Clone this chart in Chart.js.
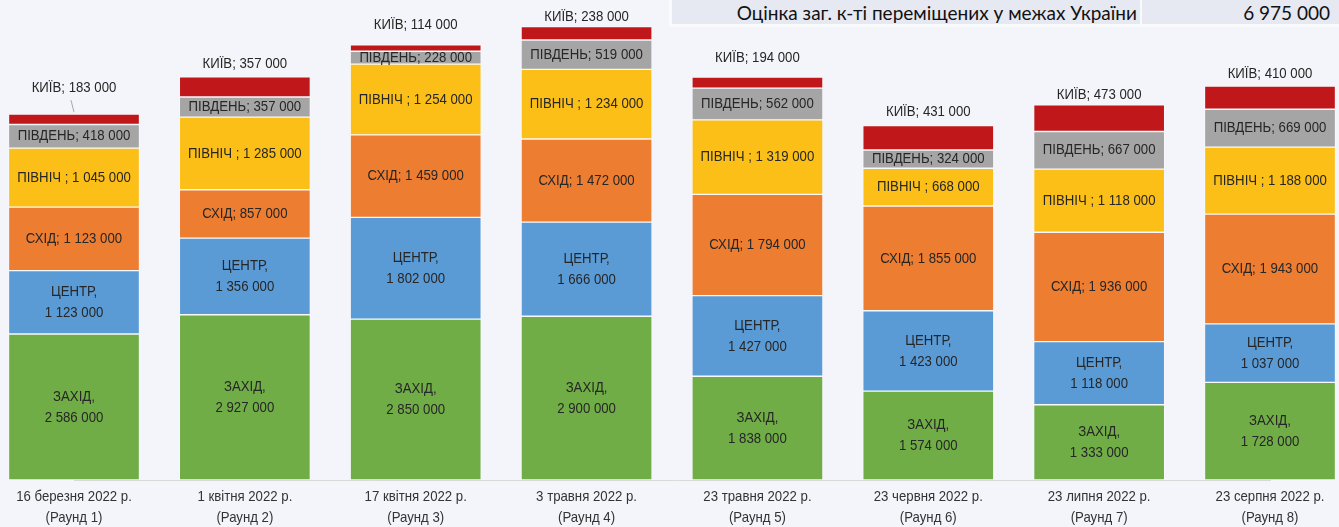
<!DOCTYPE html>
<html>
<head>
<meta charset="utf-8">
<script src="https://cdn.jsdelivr.net/npm/chart.js@4"></script>
<style>
  html, body { margin: 0; padding: 0; background: #F4F5FA; }
  #wrap { position: relative; width: 1339px; height: 527px; }
  #head { position: absolute; left: 669px; top: 0; width: 670px; height: 27px; background: #F9FAFC; }
  .cell { position: absolute; top: 0; height: 24px; background: #E6E8F2; color: #111;
          font-family: Lato, "Open Sans", sans-serif; font-size: 19px; line-height: 26px; text-align: right; }
  #c1 { left: 3px; width: 468px; }
  #c2 { left: 473px; width: 197px; }
  #c1 span { padding-right: 3px; }
  #c2 span { padding-right: 9px; }
</style>
</head>
<body>
<div id="wrap">
  <canvas id="myChart" width="1339" height="527"></canvas>
  <div id="head">
    <div class="cell" id="c1"><span>Оцінка заг. к-ті переміщених у межах України</span></div>
    <div class="cell" id="c2"><span>6 975 000</span></div>
  </div>
</div>
<script>
var rounds = [
    ['16 березня 2022 р.', '(Раунд 1)'],
    ['1 квітня 2022 р.', '(Раунд 2)'],
    ['17 квітня 2022 р.', '(Раунд 3)'],
    ['3 травня 2022 р.', '(Раунд 4)'],
    ['23 травня 2022 р.', '(Раунд 5)'],
    ['23 червня 2022 р.', '(Раунд 6)'],
    ['23 липня 2022 р.', '(Раунд 7)'],
    ['23 серпня 2022 р.', '(Раунд 8)']
];
var zakhid  = [2586000, 2927000, 2850000, 2900000, 1838000, 1574000, 1333000, 1728000];
var tsentr  = [1123000, 1356000, 1802000, 1666000, 1427000, 1423000, 1118000, 1037000];
var skhid   = [1123000,  857000, 1459000, 1472000, 1794000, 1855000, 1936000, 1943000];
var pivnich = [1045000, 1285000, 1254000, 1234000, 1319000,  668000, 1118000, 1188000];
var pivden  = [ 418000,  357000,  228000,  519000,  562000,  324000,  667000,  669000];
var kyiv    = [ 183000,  357000,  114000,  238000,  194000,  431000,  473000,  410000];

// how far the Kyiv label sits above each bar (px)
var kyivLift = [26, 13, 20, 10, 19, 14, 10, 12];

var FONT = '"Liberation Sans", Arial, sans-serif';

function fmt(n) {
    return n.toString().replace(/\B(?=(\d{3})+(?!\d))/g, ' ');
}

// the original uses a narrow font, so squeeze the text a bit
function narrowText(ctx, t, x, y) {
    ctx.save();
    ctx.translate(x, y);
    ctx.scale(0.88, 1);
    ctx.fillText(t, 0, 0);
    ctx.restore();
}

var labelPlugin = {
    id: 'segLabels',
    afterDatasetsDraw: function (chart) {
        var ctx = chart.ctx;
        ctx.save();
        ctx.font = '15px ' + FONT;
        ctx.fillStyle = '#262626';
        ctx.textAlign = 'center';
        ctx.textBaseline = 'middle';
        chart.data.datasets.forEach(function (ds, di) {
            var meta = chart.getDatasetMeta(di);
            meta.data.forEach(function (bar, i) {
                var v = ds.data[i];
                var mid = (bar.y + bar.base) / 2;
                var lines;
                if (ds.label === 'ЗАХІД' || ds.label === 'ЦЕНТР') {
                    lines = [ds.label + ',', fmt(v)];
                } else if (ds.label === 'ПІВНІЧ') {
                    lines = ['ПІВНІЧ ; ' + fmt(v)];
                } else {
                    lines = [ds.label + '; ' + fmt(v)];
                }
                if (ds.label === 'КИЇВ') {
                    var y = bar.y - kyivLift[i];
                    narrowText(ctx, lines[0], bar.x, y);
                    if (kyivLift[i] > 22) {
                        ctx.strokeStyle = '#A6A6A6';
                        ctx.lineWidth = 1;
                        ctx.beginPath();
                        ctx.moveTo(bar.x - 3, y + 12);
                        ctx.lineTo(bar.x, bar.y - 2);
                        ctx.stroke();
                    }
                    return;
                }
                var lh = 21;
                var start = mid - (lines.length - 1) * lh / 2;
                lines.forEach(function (t, k) {
                    narrowText(ctx, t, bar.x, start + k * lh);
                });
            });
        });

        // category labels under the axis
        var xs = chart.scales.x;
        var base = chart.chartArea.bottom;
        ctx.fillStyle = '#333333';
        rounds.forEach(function (r, i) {
            var x = xs.getPixelForValue(i);
            narrowText(ctx, r[0], x, base + 17);
            narrowText(ctx, r[1], x, base + 38);
        });
        ctx.restore();
    }
};

function ds(label, data, color) {
    return {
        label: label,
        data: data,
        backgroundColor: color,
        borderColor: 'rgba(255,255,255,0.35)',
        borderWidth: 1,
        borderSkipped: false,
        barThickness: 131,
        clip: false
    };
}

var ctx = document.getElementById('myChart').getContext('2d');
var myChart = new Chart(ctx, {
    type: 'bar',
    data: {
        labels: rounds,
        datasets: [
            ds('ЗАХІД', zakhid, '#70AD47'),
            ds('ЦЕНТР', tsentr, '#5B9BD5'),
            ds('СХІД', skhid, '#ED7D31'),
            ds('ПІВНІЧ', pivnich, '#FCBF17'),
            ds('ПІВДЕНЬ', pivden, '#A5A5A5'),
            ds('КИЇВ', kyiv, '#C0181A')
        ]
    },
    plugins: [labelPlugin],
    options: {
        responsive: false,
        animation: false,
        layout: { padding: { left: 74, right: 69, top: 0, bottom: 0 } },
        plugins: {
            legend: { display: false },
            tooltip: { enabled: false }
        },
        scales: {
            x: {
                stacked: true,
                offset: false,
                grid: { display: false },
                border: { display: true, color: '#D9D9D9', width: 1 },
                ticks: { display: false },
                afterFit: function (scale) { scale.height = 47; }
            },
            y: {
                stacked: true,
                display: false,
                min: 0,
                max: 8500000
            }
        }
    }
});
</script>
</body>
</html>
